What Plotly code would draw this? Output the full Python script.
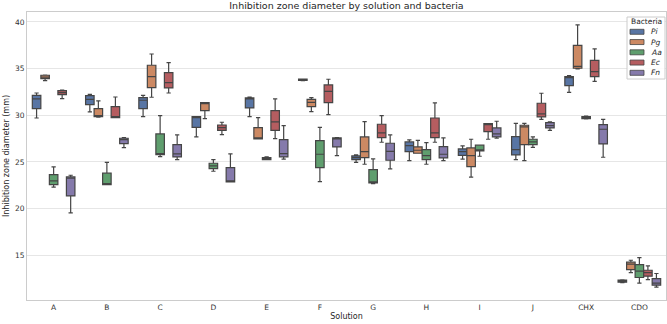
import plotly.graph_objects as go

solutions = ["A", "B", "C", "D", "E", "F", "G", "H", "I", "J", "CHX", "CDO"]
bacteria = ["Pi", "Pg", "Aa", "Ec", "Fn"]
colors = ["#5875a4", "#cc8963", "#5f9e6e", "#b55d60", "#857aab"]

pi_low = [29.71, 30.36, 29.86, 27.68, 29.86, 33.71, 24.96, 25.14, 25.29, 25.25, 32.46, 12.07]
pi_q1 = [30.71, 31.14, 30.71, 28.71, 30.79, 33.75, 25.25, 26.11, 25.71, 25.75, 33.18, 12.11]
pi_med = [31.75, 31.71, 31.61, 29.80, 31.79, 33.82, 25.46, 26.75, 26.11, 26.32, 34.07, 12.20]
pi_q3 = [32.14, 32.11, 31.89, 29.86, 31.86, 33.89, 25.64, 27.14, 26.39, 27.71, 34.14, 12.32]
pi_up = [32.39, 32.25, 32.14, 29.86, 31.96, 33.89, 25.75, 27.36, 26.71, 29.14, 34.25, 12.36]

pg_low = [33.71, 29.80, 31.93, 29.64, 27.46, 30.39, 24.75, 25.93, 23.36, 25.14, 34.96, 13.14]
pg_q1 = [33.93, 29.85, 32.96, 30.50, 27.46, 30.93, 25.46, 25.93, 24.50, 26.86, 35.04, 13.46]
pg_med = [34.10, 29.90, 34.14, 31.30, 27.54, 31.39, 26.11, 26.25, 25.68, 28.75, 35.25, 14.04]
pg_q3 = [34.29, 30.71, 35.36, 31.36, 28.68, 31.71, 27.68, 26.61, 26.50, 28.93, 37.50, 14.25]
pg_up = [34.30, 31.54, 36.57, 31.36, 29.75, 31.89, 29.32, 27.32, 27.43, 29.14, 39.68, 14.46]

aa_low = [22.29, 22.57, 25.57, 24.00, 25.25, 22.89, 22.68, 24.75, 25.61, 26.57, 29.60, 12.00]
aa_q1 = [22.57, 22.57, 25.79, 24.29, 25.25, 24.39, 22.75, 25.25, 26.18, 26.86, 29.64, 12.61]
aa_med = [22.96, 22.62, 25.89, 24.57, 25.36, 25.82, 22.82, 25.68, 26.25, 27.14, 29.75, 13.29]
aa_q3 = [23.64, 23.79, 28.00, 24.86, 25.46, 27.29, 24.18, 26.32, 26.79, 27.43, 29.86, 14.00]
aa_up = [24.46, 24.96, 29.96, 25.25, 25.54, 28.71, 25.32, 27.07, 26.80, 27.68, 29.90, 14.75]

ec_low = [31.79, 29.75, 32.39, 27.93, 27.50, 30.07, 27.11, 27.11, 27.43, 29.57, 33.64, 12.39]
ec_q1 = [32.21, 29.75, 32.93, 28.39, 28.39, 31.36, 27.61, 27.61, 28.25, 29.82, 34.14, 12.75]
ec_med = [32.43, 29.80, 33.50, 28.68, 29.29, 32.57, 28.11, 28.11, 29.00, 30.14, 34.68, 13.14]
ec_q3 = [32.64, 30.93, 34.57, 28.96, 30.50, 33.25, 29.04, 29.71, 29.11, 31.29, 35.89, 13.39]
ec_up = [32.71, 31.96, 35.64, 29.25, 31.75, 33.86, 29.96, 31.32, 29.11, 32.36, 37.11, 13.86]

fn_low = [19.54, 26.54, 25.25, 22.86, 25.29, 25.68, 24.25, 25.14, 27.54, 28.39, 25.50, 11.57]
fn_q1 = [21.36, 26.96, 25.54, 22.86, 25.54, 26.61, 25.18, 25.43, 27.68, 28.64, 26.93, 11.79]
fn_med = [23.25, 27.39, 25.86, 22.90, 25.89, 27.50, 26.14, 25.82, 28.00, 28.89, 28.50, 12.00]
fn_q3 = [23.39, 27.54, 26.86, 24.39, 27.39, 27.57, 27.00, 26.64, 28.64, 29.21, 29.00, 12.50]
fn_up = [23.57, 27.60, 27.89, 25.86, 28.89, 27.60, 27.89, 27.57, 29.36, 29.29, 29.57, 13.04]

stats = {
    "Pi": (pi_low, pi_q1, pi_med, pi_q3, pi_up),
    "Pg": (pg_low, pg_q1, pg_med, pg_q3, pg_up),
    "Aa": (aa_low, aa_q1, aa_med, aa_q3, aa_up),
    "Ec": (ec_low, ec_q1, ec_med, ec_q3, ec_up),
    "Fn": (fn_low, fn_q1, fn_med, fn_q3, fn_up),
}

W, H = 667, 324
ML, MR, MT, MB = 27, 1, 12, 24
PW, PH = W - ML - MR, H - MT - MB


def px(xp):
    return (xp - ML) / PW


def py(yp):
    return (H - MB - yp) / PH


fig = go.Figure()
for name, col in zip(bacteria, colors):
    lo, q1, med, q3, up = stats[name]
    fig.add_trace(go.Box(
        x=solutions, q1=q1, median=med, q3=q3, lowerfence=lo, upperfence=up,
        name=name, fillcolor=col,
        line=dict(color="#454545", width=1.2), whiskerwidth=0.5,
        boxpoints=False, hoverinfo="skip", showlegend=False,
    ))

FONT = "DejaVu Sans"
shapes = []
annotations = []
# legend frame
shapes.append(dict(type="rect", xref="paper", yref="paper",
                   x0=px(627), x1=px(665), y0=py(79), y1=py(17),
                   fillcolor="rgba(255,255,255,0.85)", line=dict(color="#cccccc", width=1)))
annotations.append(dict(text="Bacteria", xref="paper", yref="paper", x=px(646), y=py(21.5),
                        xanchor="center", yanchor="middle", showarrow=False,
                        font=dict(family=FONT, size=7.5, color="#262626")))
for i, (name, col) in enumerate(zip(bacteria, colors)):
    yc = 31.8 + i * 10.25
    shapes.append(dict(type="rect", xref="paper", yref="paper",
                       x0=px(630), x1=px(644), y0=py(yc + 2.5), y1=py(yc - 2.5),
                       fillcolor=col, line=dict(color="#454545", width=0.8)))
    annotations.append(dict(text="<i>%s</i>" % name, xref="paper", yref="paper",
                            x=px(648.5), y=py(yc), xanchor="left", yanchor="middle",
                            showarrow=False, font=dict(family=FONT, size=7.5, color="#262626")))

fig.update_layout(
    width=W, height=H,
    margin=dict(l=ML, r=MR, t=MT, b=MB),
    paper_bgcolor="white", plot_bgcolor="white",
    boxmode="group", boxgap=0.2, boxgroupgap=0,
    font=dict(family=FONT, size=7.5, color="#333333"),
    title=dict(text="Inhibition zone diameter by solution and bacteria",
               x=0.5, xref="paper", xanchor="center", y=0.982, yanchor="middle",
               font=dict(family=FONT, size=9.5, color="#262626")),
    shapes=shapes, annotations=annotations,
    showlegend=False,
)
fig.update_xaxes(
    title=dict(text="Solution", font=dict(size=8, color="#262626"), standoff=2),
    showgrid=False, showline=True, mirror=True, linecolor="#cccccc", linewidth=1,
    ticks="", tickfont=dict(size=7.5, color="#333333"),
    range=[-0.5, 11.5],
)
fig.update_yaxes(
    title=dict(text="Inhibition zone diameter (mm)", font=dict(size=8, color="#262626"), standoff=4),
    range=[10.2, 41.07], tickvals=[15, 20, 25, 30, 35, 40],
    showgrid=True, gridcolor="#e6e6e6", gridwidth=1, zeroline=False,
    showline=True, mirror=True, linecolor="#cccccc", linewidth=1,
    ticks="", tickfont=dict(size=7.5, color="#333333"),
)
fig.write_html("out.html")
